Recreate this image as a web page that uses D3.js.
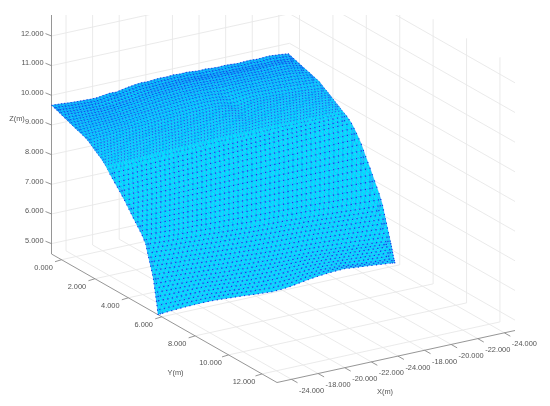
<!DOCTYPE html>
<html><head><meta charset="utf-8">
<script src="https://cdn.jsdelivr.net/npm/d3@7"></script>
<style>html,body{margin:0;padding:0;background:#fff}svg{display:block}text{font-family:"Liberation Sans",Arial,sans-serif}</style>
</head><body><svg id="c" width="550" height="406"></svg>
<script>
const xTickLabels=["-24.000","-18.000","-20.000","-22.000","-24.000","-18.000","-20.000","-22.000","-24.000"];
const yTicks=[0,2,4,6,8,10,12];
const zTicks=[5,6,7,8,9,10,11,12];
const zGridExtra=[13];
const surfaceY=[-0.58,-0.27,0.04,0.35,0.66,0.97,1.28,1.57,1.79,2.00,2.22,2.44,2.62,2.90,3.19,3.49,3.78,4.04,4.30,4.57,4.84,5.05,5.16,5.28,5.40,5.51,5.58,5.65,5.72,5.78];
const surfaceZ=[
[9.67,9.66,9.64,9.62,9.61,9.60,9.59,9.59,9.62,9.65,9.64,9.68,9.72,9.75,9.77,9.76,9.78,9.79,9.78,9.80,9.78,9.79,9.77,9.75,9.76,9.74,9.73,9.74,9.73,9.71,9.72,9.73,9.71,9.72,9.73,9.71,9.69,9.66],
[9.60,9.60,9.58,9.56,9.55,9.54,9.53,9.53,9.55,9.58,9.59,9.61,9.65,9.68,9.70,9.70,9.71,9.72,9.72,9.73,9.72,9.72,9.71,9.70,9.69,9.68,9.68,9.67,9.67,9.66,9.66,9.66,9.65,9.65,9.66,9.65,9.63,9.61,9.60],
[9.53,9.53,9.51,9.50,9.49,9.48,9.47,9.48,9.49,9.52,9.54,9.57,9.61,9.64,9.66,9.67,9.69,9.70,9.70,9.71,9.71,9.71,9.70,9.69,9.68,9.67,9.67,9.67,9.66,9.66,9.65,9.65,9.65,9.65,9.65,9.63,9.59,9.54],
[9.46,9.46,9.45,9.44,9.44,9.43,9.43,9.44,9.46,9.49,9.51,9.53,9.57,9.60,9.62,9.64,9.65,9.66,9.67,9.67,9.67,9.67,9.66,9.65,9.64,9.63,9.63,9.63,9.62,9.62,9.61,9.60,9.60,9.59,9.59,9.58,9.55,9.51,9.48],
[9.39,9.39,9.39,9.39,9.39,9.39,9.40,9.41,9.43,9.46,9.48,9.51,9.54,9.56,9.58,9.59,9.60,9.61,9.62,9.62,9.62,9.61,9.60,9.58,9.58,9.58,9.58,9.58,9.57,9.57,9.56,9.55,9.55,9.54,9.53,9.50,9.47,9.43],
[9.32,9.33,9.33,9.34,9.34,9.35,9.36,9.37,9.39,9.41,9.43,9.45,9.47,9.49,9.50,9.52,9.53,9.54,9.55,9.55,9.55,9.54,9.52,9.49,9.48,9.50,9.51,9.51,9.50,9.49,9.49,9.48,9.47,9.46,9.45,9.43,9.41,9.39,9.37],
[9.26,9.27,9.27,9.28,9.29,9.31,9.32,9.33,9.35,9.37,9.38,9.40,9.41,9.42,9.43,9.44,9.45,9.46,9.46,9.47,9.46,9.45,9.42,9.37,9.39,9.42,9.43,9.43,9.42,9.41,9.41,9.40,9.39,9.38,9.36,9.35,9.33,9.31],
[9.18,9.19,9.20,9.21,9.22,9.24,9.25,9.26,9.27,9.28,9.29,9.31,9.32,9.33,9.34,9.34,9.35,9.36,9.36,9.37,9.37,9.36,9.33,9.27,9.25,9.29,9.32,9.33,9.33,9.32,9.31,9.30,9.29,9.28,9.27,9.25,9.23,9.21,9.19],
[9.08,9.09,9.10,9.11,9.13,9.14,9.15,9.16,9.17,9.18,9.19,9.20,9.21,9.22,9.23,9.23,9.24,9.25,9.25,9.26,9.26,9.25,9.22,9.16,9.18,9.22,9.24,9.24,9.23,9.23,9.22,9.21,9.20,9.19,9.17,9.15,9.13,9.11],
[8.98,8.99,9.00,9.01,9.02,9.03,9.05,9.06,9.07,9.08,9.09,9.10,9.11,9.11,9.12,9.13,9.14,9.14,9.15,9.15,9.16,9.15,9.13,9.08,9.06,9.10,9.13,9.14,9.14,9.13,9.13,9.12,9.11,9.10,9.09,9.08,9.06,9.04,9.03],
[8.89,8.90,8.91,8.92,8.93,8.94,8.95,8.96,8.97,8.98,8.99,9.00,9.00,9.01,9.02,9.03,9.03,9.04,9.04,9.05,9.05,9.04,9.02,8.98,9.00,9.03,9.04,9.04,9.04,9.03,9.03,9.02,9.01,9.01,9.00,8.98,8.96,8.94],
[8.79,8.80,8.81,8.82,8.83,8.83,8.84,8.85,8.86,8.87,8.88,8.89,8.90,8.90,8.91,8.92,8.92,8.93,8.93,8.93,8.94,8.93,8.92,8.90,8.92,8.94,8.94,8.94,8.94,8.93,8.93,8.92,8.92,8.91,8.91,8.90,8.89,8.87,8.86],
[8.68,8.69,8.70,8.71,8.71,8.72,8.73,8.74,8.75,8.75,8.76,8.77,8.78,8.78,8.79,8.79,8.80,8.80,8.81,8.81,8.81,8.81,8.80,8.80,8.81,8.81,8.81,8.81,8.81,8.80,8.80,8.80,8.80,8.79,8.79,8.79,8.78,8.78],
[8.47,8.48,8.49,8.50,8.51,8.52,8.53,8.54,8.55,8.56,8.57,8.58,8.59,8.60,8.60,8.61,8.62,8.63,8.64,8.65,8.66,8.66,8.67,8.67,8.68,8.68,8.68,8.68],
[8.27,8.28,8.29,8.31,8.32,8.33,8.34,8.35,8.36,8.37,8.39,8.40,8.41,8.42,8.43,8.44,8.45,8.46,8.47,8.48,8.49,8.50,8.51,8.52,8.52,8.53,8.53],
[8.07,8.08,8.09,8.10,8.11,8.12,8.13,8.14,8.15,8.15,8.16,8.17,8.18,8.19,8.20,8.21,8.21,8.22,8.23,8.24,8.25,8.26,8.26,8.27,8.28,8.28,8.29,8.29],
[7.86,7.87,7.87,7.88,7.89,7.89,7.90,7.91,7.91,7.92,7.93,7.93,7.94,7.95,7.95,7.96,7.97,7.97,7.98,7.98,7.99,7.99,8.00,8.00,8.01,8.01,8.01],
[7.65,7.65,7.66,7.66,7.66,7.66,7.67,7.67,7.67,7.67,7.68,7.68,7.68,7.68,7.68,7.68,7.69,7.69,7.69,7.69,7.69,7.69,7.69,7.69,7.69,7.68,7.68,7.68],
[7.44,7.44,7.43,7.43,7.43,7.42,7.42,7.42,7.41,7.41,7.41,7.41,7.40,7.40,7.40,7.40,7.40,7.39,7.39,7.39,7.39,7.38,7.38,7.38,7.38,7.37,7.37],
[7.23,7.23,7.22,7.21,7.20,7.20,7.19,7.18,7.17,7.16,7.16,7.15,7.14,7.14,7.13,7.12,7.12,7.11,7.10,7.10,7.09,7.08,7.07,7.06,7.05,7.04,7.03,7.03],
[7.02,7.01,7.00,6.98,6.97,6.96,6.95,6.93,6.92,6.91,6.90,6.88,6.87,6.86,6.85,6.84,6.83,6.82,6.81,6.79,6.78,6.76,6.75,6.73,6.72,6.70,6.69],
[6.79,6.78,6.76,6.74,6.73,6.71,6.69,6.68,6.66,6.64,6.62,6.61,6.59,6.58,6.57,6.56,6.55,6.53,6.52,6.50,6.48,6.46,6.44,6.42,6.40,6.38,6.37,6.36],
[6.53,6.51,6.49,6.47,6.46,6.44,6.42,6.40,6.38,6.37,6.35,6.33,6.32,6.30,6.29,6.28,6.27,6.26,6.24,6.23,6.21,6.19,6.17,6.15,6.13,6.11,6.09],
[6.27,6.26,6.24,6.22,6.20,6.19,6.17,6.15,6.13,6.11,6.10,6.08,6.06,6.05,6.04,6.03,6.02,6.01,6.00,5.98,5.96,5.94,5.92,5.90,5.88,5.86,5.84,5.83],
[6.02,6.00,5.98,5.96,5.95,5.93,5.91,5.89,5.87,5.85,5.84,5.82,5.80,5.78,5.77,5.76,5.75,5.74,5.73,5.71,5.69,5.67,5.65,5.62,5.60,5.57,5.55],
[5.76,5.75,5.74,5.72,5.71,5.69,5.67,5.65,5.63,5.61,5.60,5.58,5.57,5.55,5.54,5.53,5.52,5.51,5.50,5.48,5.46,5.44,5.42,5.40,5.37,5.35,5.32,5.30],
[5.48,5.47,5.46,5.45,5.44,5.43,5.41,5.39,5.37,5.36,5.34,5.33,5.32,5.31,5.31,5.31,5.31,5.31,5.29,5.28,5.26,5.24,5.23,5.21,5.19,5.17,5.15],
[5.21,5.21,5.20,5.20,5.20,5.20,5.19,5.17,5.15,5.13,5.11,5.09,5.08,5.07,5.08,5.08,5.10,5.11,5.12,5.11,5.09,5.07,5.05,5.03,5.01,4.99,4.98,4.97],
[4.94,4.94,4.94,4.94,4.95,4.95,4.94,4.92,4.91,4.88,4.87,4.85,4.84,4.83,4.84,4.86,4.90,4.92,4.94,4.93,4.93,4.89,4.86,4.84,4.82,4.80,4.79],
[4.66,4.67,4.69,4.71,4.72,4.73,4.73,4.72,4.70,4.68,4.66,4.63,4.61,4.59,4.60,4.63,4.68,4.73,4.77,4.80,4.82,4.83,4.80,4.77,4.74,4.71,4.68,4.66]
];

const svg=d3.select("#c");
const xS=d3.scaleLinear().domain([-0.545,8.40]).range([0,1]);
const yS=d3.scaleLinear().domain([-0.6,12.9]).range([0,1]);
const zS=d3.scaleLinear().domain([4.65,12]).range([254,36]);
const ZTOP=13.57, XEND=8.35;
const L={x:51.5},ux={x:238,y:-52},uy={x:225.5,y:128.5};
function P(xv,yv,z){const a=xS(xv),b=yS(yv);return [L.x+ux.x*a+uy.x*b, zS(z)+ux.y*a+uy.y*b];}
const X0=xS.domain()[0],X1=xS.domain()[1],Y0=yS.domain()[0],Y1=yS.domain()[1],ZB=zS.domain()[0];
const ln=d3.line();

const defs=svg.append("defs");
defs.append("clipPath").attr("id","top").append("rect").attr("x",0).attr("y",15).attr("width",550).attr("height",391);
const mkBlur=(id,s)=>defs.append("filter").attr("id",id).attr("x","-5%").attr("y","-5%").attr("width","110%").attr("height","110%").append("feGaussianBlur").attr("stdDeviation",s);
mkBlur("soft",0.42);mkBlur("softText",0.28);
const grid=svg.append("g").attr("clip-path","url(#top)").attr("fill","none").attr("stroke","#e8e8e8").attr("stroke-width",0.9);
const seg=(a,b)=>grid.append("path").attr("d",ln([a,b]));
xTickLabels.forEach((_,i)=>{seg(P(i,Y0,ZB),P(i,Y0,ZTOP));seg(P(i,Y0,ZB),P(i,Y1,ZB));});
yTicks.forEach(v=>{seg(P(X1,v,ZB),P(X1,v,ZTOP));seg(P(X0,v,ZB),P(X1,v,ZB));});
zTicks.concat(zGridExtra).forEach(z=>{seg(P(X0,Y0,z),P(X1,Y0,z));seg(P(X1,Y0,z),P(X1,Y1,z));});

const ax=svg.append("g").attr("fill","none").attr("stroke","#8a8a8a").attr("stroke-width",0.9);
ax.append("path").attr("d",ln([[P(X0,Y0,ZB)[0],15],P(X0,Y0,ZB)]));
ax.append("path").attr("d",ln([P(X0,Y0,ZB),P(X0,Y1,ZB)]));
ax.append("path").attr("d",ln([P(X0,Y1,ZB),P(X1,Y1,ZB)]));
const lab=svg.append("g").attr("font-size",7.4).attr("fill","#555").attr("text-anchor","middle").attr("filter","url(#softText)");
zTicks.forEach(z=>{const p=P(X0,Y0,z);ax.append("path").attr("d",ln([p,[p[0]-6,p[1]-2.4]]));
  lab.append("text").attr("x",p[0]-8).attr("y",p[1]-0.5).attr("text-anchor","end").text(z.toFixed(3));});
yTicks.forEach(v=>{const p=P(X0,v,ZB);ax.append("path").attr("d",ln([p,[p[0]-6.5,p[1]+2]]));
  lab.append("text").attr("x",p[0]-18).attr("y",p[1]+10.5).text(v.toFixed(3));});
xTickLabels.forEach((t,i)=>{const p=P(i,Y1,ZB);ax.append("path").attr("d",ln([p,[p[0]+6,p[1]+3.4]]));
  lab.append("text").attr("x",p[0]+20).attr("y",p[1]+13.5).text(t);});
lab.append("text").attr("x",17).attr("y",121).text("Z(m)");
lab.append("text").attr("x",175.5).attr("y",375).text("Y(m)");
lab.append("text").attr("x",385).attr("y",394).text("X(m)");

function rowNodes(r){const zs=surfaceZ[r],n=zs.length,odd=r%2===1;
  return zs.map((z,i)=>{let f;if(!odd)f=i/(n-1);else{const st=1/(n-2);f=i===0?0:i===n-1?1:(i-0.5)*st;}
    return {f,p:P(X0+f*(XEND-X0),surfaceY[r],z)};});}
const rows=surfaceZ.map((_,r)=>rowNodes(r));
const mid=(a,b)=>[(a[0]+b[0])/2,(a[1]+b[1])/2];
const facets=[];
// each facet is split at its edge midpoints when drawn, to match the reference's mesh density
function addFacet(a,b,c,r){
  const ab=mid(a,b),bc=mid(b,c),ca=mid(c,a);
  [[a,ab,ca],[ab,b,bc],[ca,bc,c],[ab,bc,ca]].forEach(t=>{t.r=r;facets.push(t);});
}
for(let r=0;r<rows.length-1;r++){const A=rows[r],B=rows[r+1];let i=0,j=0;
  while(i<A.length-1||j<B.length-1){
    const adv=(j>=B.length-1)||(i<A.length-1&&A[i+1].f<=B[j+1].f);
    if(adv){addFacet(A[i].p,A[i+1].p,B[j].p,r);i++;}else{addFacet(A[i].p,B[j+1].p,B[j].p,r);j++;}
  }}
const nodes=new Map();
facets.forEach(t=>t.forEach(p=>nodes.set(p[0].toFixed(2)+","+p[1].toFixed(2),{p,r:t.r})));
const strokeW=d3.scaleLinear().domain([0,6,12,13,28]).range([0.36,0.31,0.26,0.34,0.34]);
const strokeC=d3.scaleLinear().domain([0,12,13,28]).range(["#0a4cee","#1470f4","#1a80f6","#1a80f6"]);
const nodeR=d3.scaleLinear().domain([0,6,12,13,28]).range([0.52,0.47,0.44,0.62,0.66]);
const mesh=svg.append("g").attr("filter","url(#soft)");
mesh.append("g").selectAll("path").data(facets).join("path")
  .attr("d",t=>ln(t)+"Z").attr("fill","#00e4ff").attr("stroke",t=>strokeC(t.r)).attr("stroke-width",t=>strokeW(t.r)).attr("stroke-linejoin","round");
mesh.append("g").selectAll("circle").data([...nodes.values()]).join("circle")
  .attr("cx",d=>d.p[0]).attr("cy",d=>d.p[1]).attr("r",d=>nodeR(d.r)).attr("fill","#0c38e4");
</script></body></html>
